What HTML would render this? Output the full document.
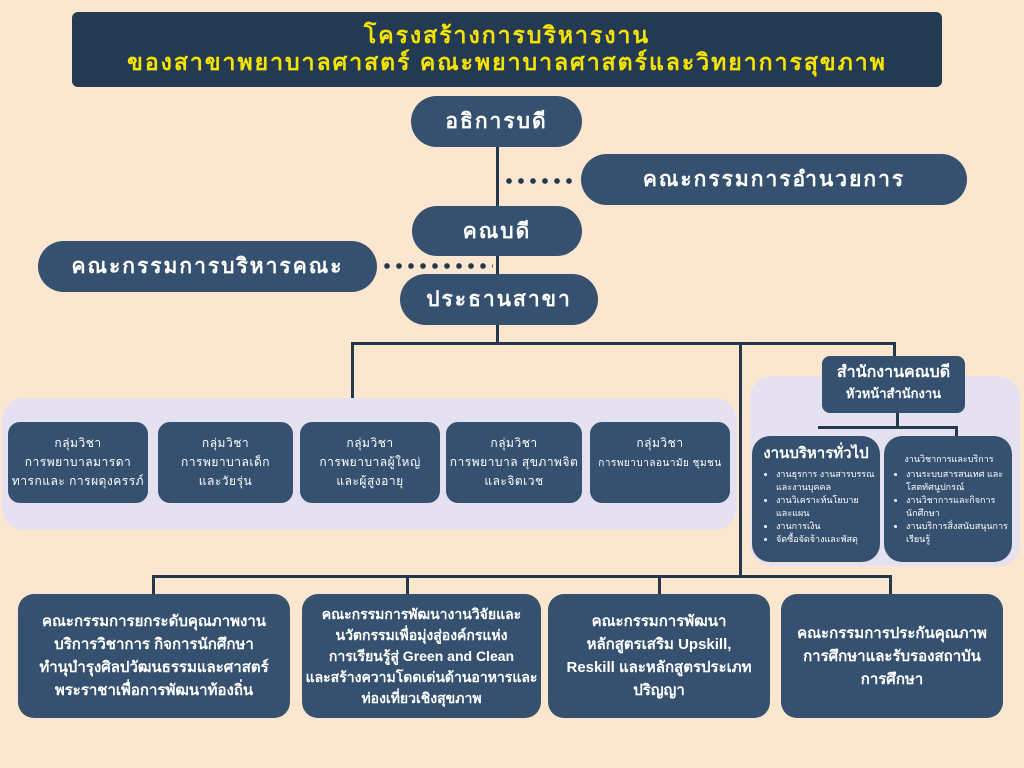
<!DOCTYPE html>
<html><head><meta charset="utf-8"><style>
body{margin:0;width:1024px;height:768px;background:#fbe7cf;position:relative;overflow:hidden;font-family:"Liberation Sans","Noto Sans CJK SC","WenQuanYi Zen Hei",sans-serif;}
.a{position:absolute;box-sizing:border-box;}
.b{background:#35516f;color:#fff;display:flex;align-items:center;justify-content:center;text-align:center;}
.pill{border-radius:26px;font-size:21px;letter-spacing:2px;font-weight:bold;}
.l{position:absolute;background:#24384e;}
.g{border-radius:12px;font-size:12px;line-height:19px;letter-spacing:.5px;}
.bt{border-radius:16px;font-size:15px;line-height:23px;font-weight:bold;}
.dots{position:absolute;height:6px;background:radial-gradient(circle,#24384e 2.6px,transparent 3px) 0 0/12px 6px repeat-x;}
ul{margin:3px 0 0;padding-left:16px;text-align:left;font-size:9px;line-height:13px;}
</style></head><body>
<div class="a" style="left:72px;top:12px;width:870px;height:75px;background:#233a52;border-radius:6px;color:#f5e400;font-weight:bold;font-size:23px;line-height:27px;text-align:center;padding-top:10px;letter-spacing:2px">โครงสร้างการบริหารงาน<br>ของสาขาพยาบาลศาสตร์ คณะพยาบาลศาสตร์และวิทยาการสุขภาพ</div>

<div class="l" style="left:496px;top:140px;width:3px;height:190px"></div>
<div class="dots" style="left:503px;top:178px;width:74px"></div>
<div class="dots" style="left:381px;top:263px;width:112px"></div>

<div class="a b pill" style="left:411px;top:96px;width:171px;height:51px">อธิการบดี</div>
<div class="a b pill" style="left:581px;top:154px;width:386px;height:51px">คณะกรรมการอำนวยการ</div>
<div class="a b pill" style="left:412px;top:206px;width:170px;height:50px">คณบดี</div>
<div class="a b pill" style="left:38px;top:241px;width:339px;height:51px">คณะกรรมการบริหารคณะ</div>
<div class="a b pill" style="left:400px;top:274px;width:198px;height:51px">ประธานสาขา</div>

<div class="l" style="left:496px;top:325px;width:3px;height:19px"></div>
<div class="l" style="left:351px;top:342px;width:545px;height:3px"></div>
<div class="l" style="left:351px;top:342px;width:3px;height:60px"></div>
<div class="l" style="left:739px;top:342px;width:3px;height:235px"></div>
<div class="l" style="left:893px;top:342px;width:3px;height:16px"></div>

<div class="a" style="left:2px;top:398px;width:735px;height:132px;background:#e6e1f0;border-radius:22px"></div>
<div class="a" style="left:750px;top:376px;width:270px;height:190px;background:#e6e1f0;border-radius:22px"></div>

<div class="a b g" style="left:8px;top:422px;width:140px;height:81px">กลุ่มวิชา<br>การพยาบาลมารดา<br>ทารกและ การผดุงครรภ์</div>
<div class="a b g" style="left:158px;top:422px;width:135px;height:81px;align-items:flex-start;padding-top:12px">กลุ่มวิชา<br>การพยาบาลเด็ก<br>และวัยรุ่น</div>
<div class="a b g" style="left:300px;top:422px;width:140px;height:81px;align-items:flex-start;padding-top:12px">กลุ่มวิชา<br>การพยาบาลผู้ใหญ่<br>และผู้สูงอายุ</div>
<div class="a b g" style="left:446px;top:422px;width:136px;height:81px;align-items:flex-start;padding-top:12px">กลุ่มวิชา<br>การพยาบาล สุขภาพจิต<br>และจิตเวช</div>
<div class="a b g" style="left:590px;top:422px;width:140px;height:81px;align-items:flex-start;padding-top:12px"><div>กลุ่มวิชา<br><span style="font-size:10px">การพยาบาลอนามัย ชุมชน</span></div></div>

<div class="a b" style="left:822px;top:356px;width:143px;height:57px;border-radius:8px;font-weight:bold;display:block;padding-top:6px"><div style="font-size:16px;line-height:22px">สำนักงานคณบดี</div><div style="font-size:13px;line-height:20px">หัวหน้าสำนักงาน</div></div>
<div class="l" style="left:896px;top:413px;width:3px;height:15px"></div>
<div class="l" style="left:818px;top:426px;width:140px;height:3px"></div>
<div class="l" style="left:955px;top:426px;width:3px;height:12px"></div>

<div class="a b" style="left:752px;top:436px;width:128px;height:126px;border-radius:18px;display:block;text-align:left;padding:5px 4px 0 8px">
<div style="font-size:15px;font-weight:bold;text-align:center;margin-left:-4px;white-space:nowrap">งานบริหารทั่วไป</div>
<ul><li>งานธุรการ งานสารบรรณ และงานบุคคล</li><li>งานวิเคราะห์นโยบาย และแผน</li><li>งานการเงิน</li><li>จัดซื้อจัดจ้างและพัสดุ</li></ul></div>
<div class="a b" style="left:884px;top:436px;width:128px;height:126px;border-radius:18px;display:block;text-align:left;padding:16px 4px 0 6px">
<div style="font-size:9px;text-align:center">งานวิชาการและบริการ</div>
<ul style="margin-top:2px"><li>งานระบบสารสนเทศ และ โสตทัศนูปกรณ์</li><li>งานวิชาการและกิจการนักศึกษา</li><li>งานบริการสิ่งสนับสนุนการเรียนรู้</li></ul></div>

<div class="l" style="left:152px;top:575px;width:740px;height:3px"></div>
<div class="l" style="left:152px;top:575px;width:3px;height:20px"></div>
<div class="l" style="left:406px;top:575px;width:3px;height:20px"></div>
<div class="l" style="left:658px;top:575px;width:3px;height:20px"></div>
<div class="l" style="left:889px;top:575px;width:3px;height:20px"></div>

<div class="a b bt" style="left:18px;top:594px;width:272px;height:124px">คณะกรรมการยกระดับคุณภาพงาน<br>บริการวิชาการ กิจการนักศึกษา<br>ทำนุบำรุงศิลปวัฒนธรรมและศาสตร์<br>พระราชาเพื่อการพัฒนาท้องถิ่น</div>
<div class="a b bt" style="left:302px;top:594px;width:239px;height:124px;font-size:14px;line-height:21px;white-space:nowrap">คณะกรรมการพัฒนางานวิจัยและ<br>นวัตกรรมเพื่อมุ่งสู่องค์กรแห่ง<br>การเรียนรู้สู่ Green and Clean<br>และสร้างความโดดเด่นด้านอาหารและ<br>ท่องเที่ยวเชิงสุขภาพ</div>
<div class="a b bt" style="left:548px;top:594px;width:222px;height:124px">คณะกรรมการพัฒนา<br>หลักสูตรเสริม Upskill,<br>Reskill และหลักสูตรประเภท<br>ปริญญา</div>
<div class="a b bt" style="left:781px;top:594px;width:222px;height:124px">คณะกรรมการประกันคุณภาพ<br>การศึกษาและรับรองสถาบัน<br>การศึกษา</div>
</body></html>
